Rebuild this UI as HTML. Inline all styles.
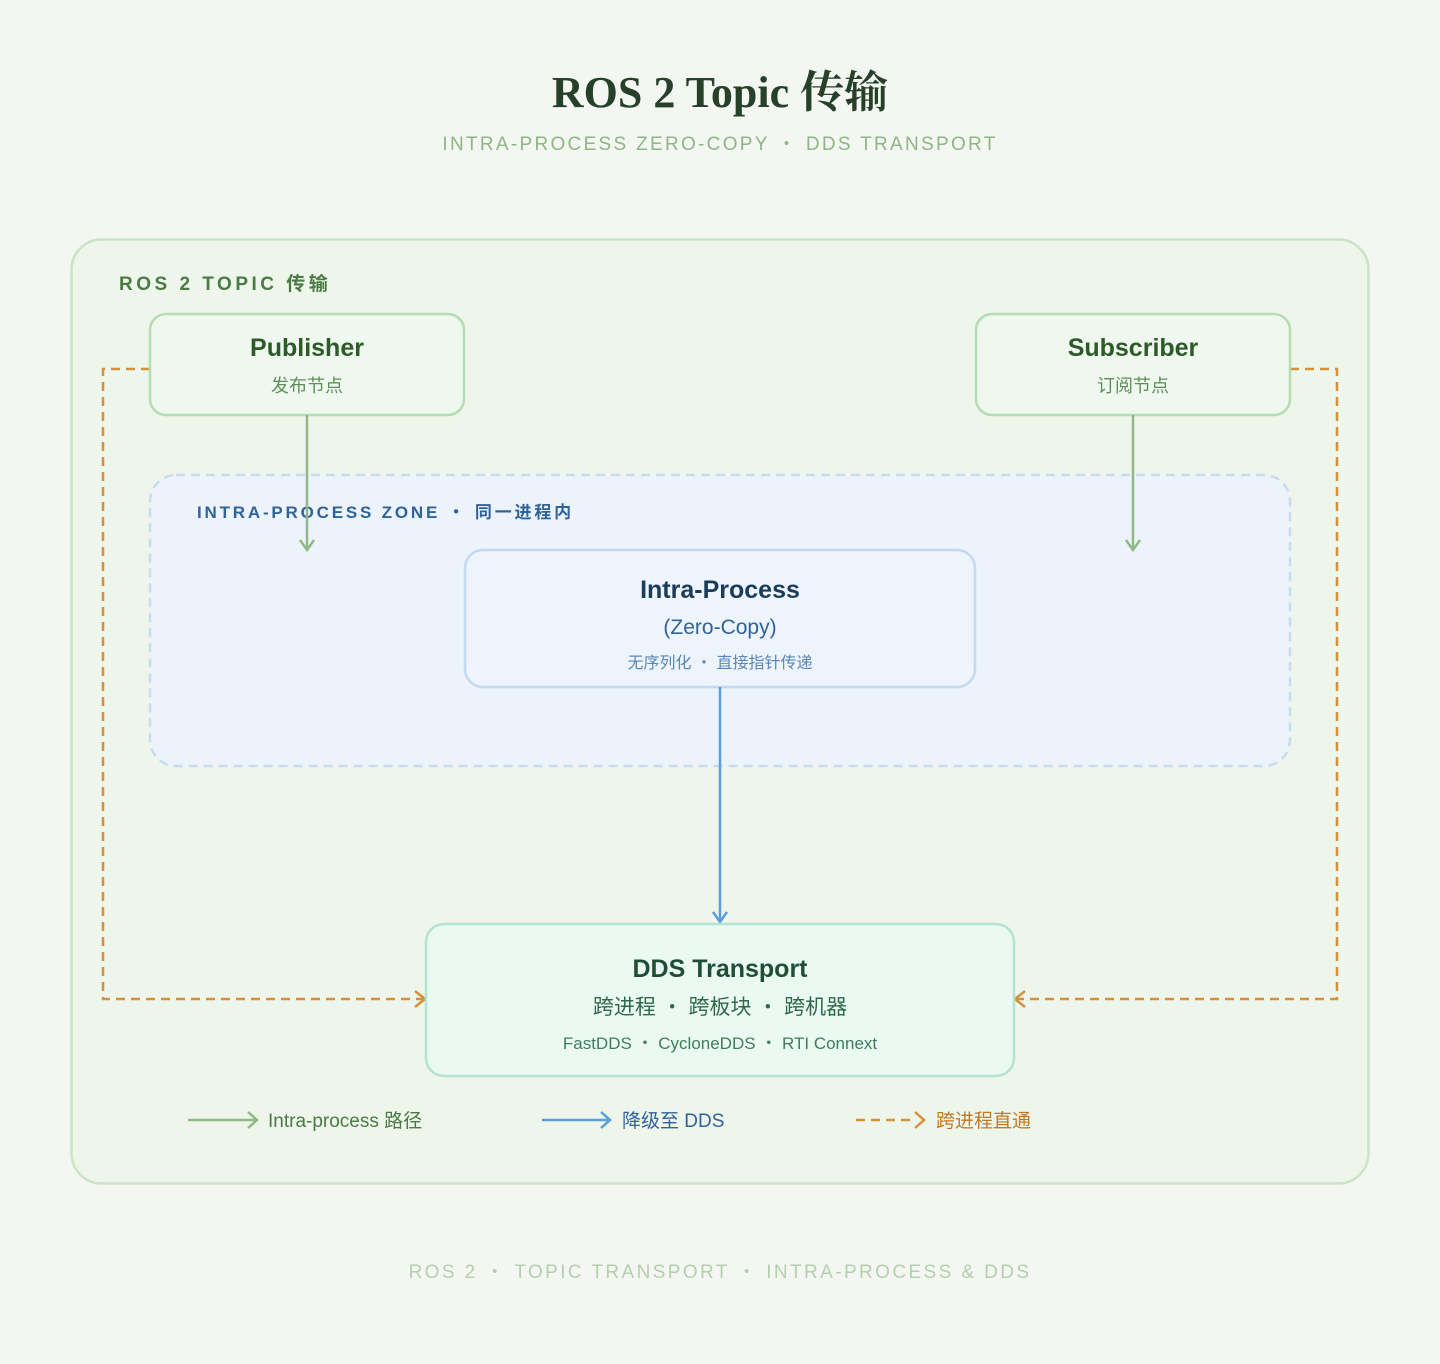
<!DOCTYPE html>
<html><head><meta charset="utf-8"><style>
body{margin:0;background:#f4f7f1;}
svg{display:block}
.s{font-family:"Liberation Sans","Noto Sans CJK SC",sans-serif}
</style></head><body>
<svg width="1440" height="1364" viewBox="0 0 1440 1364" xmlns="http://www.w3.org/2000/svg" class="s">
<rect width="1440" height="1364" fill="#f4f7f1"/>
<text x="720" y="107" text-anchor="middle" font-family="'Liberation Serif','Noto Serif CJK SC',serif" font-size="44" font-weight="bold" fill="#27402a">ROS 2 Topic 传输</text>
<text x="720" y="150" text-anchor="middle" font-size="19" letter-spacing="2.3" fill="#8db585">INTRA-PROCESS ZERO-COPY ・ DDS TRANSPORT</text>
<rect x="71.5" y="239.5" width="1297" height="944" rx="30" fill="#eef5ea" stroke="#cbe3c6" stroke-width="2.5"/>
<text x="119" y="290" font-size="19" font-weight="bold" letter-spacing="3.5" fill="#4b7b45">ROS 2 TOPIC 传输</text>
<rect x="150" y="475" width="1140" height="291" rx="26" fill="#ecf3fb" stroke="#c8dbf1" stroke-width="2.5" stroke-dasharray="9 6"/>
<text x="197" y="518" font-size="17" font-weight="bold" letter-spacing="2.8" fill="#30639a">INTRA-PROCESS ZONE ・ 同一进程内</text>
<g fill="none" stroke="#d79038" stroke-width="2.5" stroke-dasharray="9 6">
<path d="M150 369H103V999H424"/><path d="M1290 369H1337V999H1016"/>
</g>
<g fill="none" stroke="#d79038" stroke-width="2.5"><path d="M415 991l10 8-10 8"/><path d="M1025 991l-10 8 10 8"/></g>
<rect x="150" y="314" width="314" height="101" rx="16" fill="#eef8ee" stroke="#b6dcb3" stroke-width="2.5"/>
<text x="307" y="356" text-anchor="middle" font-size="25" font-weight="bold" fill="#2e5a2a">Publisher</text>
<text x="307" y="392" text-anchor="middle" font-size="18" fill="#5e8f58">发布节点</text>
<rect x="976" y="314" width="314" height="101" rx="16" fill="#eef8ee" stroke="#b6dcb3" stroke-width="2.5"/>
<text x="1133" y="356" text-anchor="middle" font-size="25" font-weight="bold" fill="#2e5a2a">Subscriber</text>
<text x="1133" y="392" text-anchor="middle" font-size="18" fill="#5e8f58">订阅节点</text>
<g stroke="#8fb886" stroke-width="2.5" fill="none"><path d="M307 415V549M300 540l7 10 7-10"/><path d="M1133 415V549M1126 540l7 10 7-10"/></g>
<rect x="465" y="550" width="510" height="137" rx="18" fill="#edf4fc" stroke="#c3d8f1" stroke-width="2.5"/>
<text x="720" y="598" text-anchor="middle" font-size="25" font-weight="bold" fill="#193c5a">Intra-Process</text>
<text x="720" y="634" text-anchor="middle" font-size="21" fill="#30639a">(Zero-Copy)</text>
<text x="720" y="668" text-anchor="middle" font-size="16" fill="#5a86b8">无序列化 ・ 直接指针传递</text>
<g stroke="#5a9edb" stroke-width="2.5" fill="none"><path d="M720 687V922M713 912l7 10 7-10"/></g>
<rect x="426" y="924" width="588" height="152" rx="18" fill="#ebf9f3" stroke="#b3e4cf" stroke-width="2.5"/>
<text x="720" y="977" text-anchor="middle" font-size="25" font-weight="bold" fill="#1f4d35">DDS Transport</text>
<text x="720" y="1014" text-anchor="middle" font-size="21" fill="#2e6a48">跨进程 ・ 跨板块 ・ 跨机器</text>
<text x="720" y="1049" text-anchor="middle" font-size="17" fill="#3f7d5a">FastDDS ・ CycloneDDS ・ RTI Connext</text>
<g stroke-width="2.5" fill="none">
<path d="M188 1120H256M248 1112l9 8-9 8" stroke="#8fb886"/>
<path d="M542 1120H609M601 1112l9 8-9 8" stroke="#5a9edb"/>
<path d="M856 1120H916" stroke="#d79038" stroke-dasharray="9 6"/><path d="M915 1112l9 8-9 8" stroke="#d79038"/>
</g>
<text x="268" y="1127" font-size="19" fill="#4b7b45">Intra-process 路径</text>
<text x="622" y="1127" font-size="19" fill="#30639a">降级至 DDS</text>
<text x="936" y="1127" font-size="19" fill="#c07a25">跨进程直通</text>
<text x="720" y="1278" text-anchor="middle" font-size="19" letter-spacing="2.4" fill="#b3cfae">ROS 2 ・ TOPIC TRANSPORT ・ INTRA-PROCESS &amp; DDS</text>
</svg>
</body></html>
